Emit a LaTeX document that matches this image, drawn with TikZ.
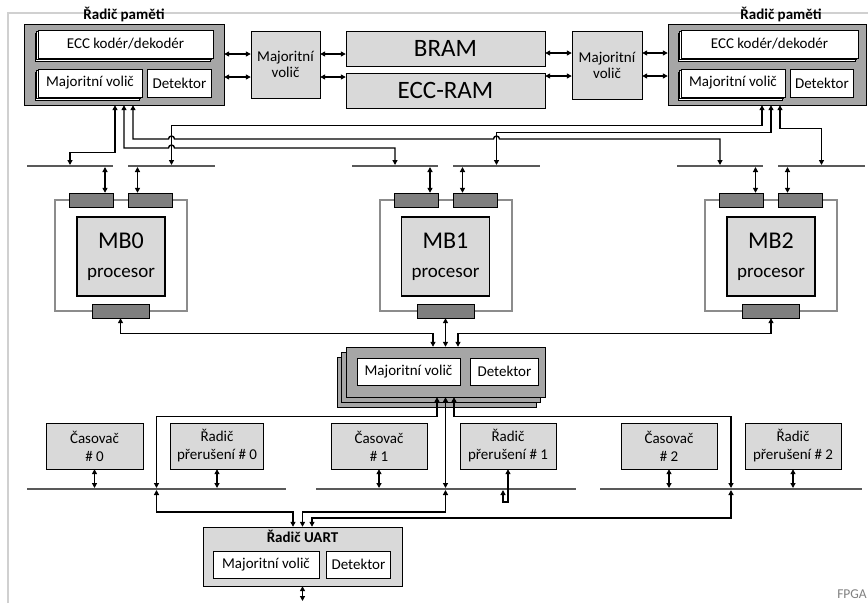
\documentclass[tikz,border=0pt]{standalone}
\usepackage{fontspec}
\setmainfont{Carlito}
\usetikzlibrary{positioning, arrows.meta, shadows}

\definecolor{ctlgray}{HTML}{A6A6A6}
\definecolor{boxgray}{HTML}{D9D9D9}
\definecolor{portgray}{HTML}{7F7F7F}
\definecolor{framegray}{HTML}{8C8C8C}
\definecolor{busgray}{HTML}{595959}
\definecolor{fpgagray}{HTML}{D0D0D0}

\tikzset{
  >={Triangle[length=5pt,width=5pt]}, % small filled heads
  line width=1.2pt,
  every node/.style={inner sep=0pt, font=\fontsize{15}{16}\selectfont, align=center},
  blk/.style={draw, fill=boxgray}, % light grey blocks
  ctl/.style={draw, fill=ctlgray}, % dark grey controllers
  wbox/.style={draw, fill=white, minimum height=28pt},
  stk/.style={copy shadow={shadow xshift=-3pt, shadow yshift=-3pt, fill=white, draw=black},
              copy shadow={shadow xshift=-1.5pt, shadow yshift=-1.5pt, fill=white, draw=black}},
  cvstk/.style={copy shadow={shadow xshift=-9pt, shadow yshift=-10pt, fill=ctlgray, draw=black},
                copy shadow={shadow xshift=-4.5pt, shadow yshift=-5pt, fill=ctlgray, draw=black}},
  port/.style={draw, fill=portgray, minimum width=44pt, minimum height=14pt},
  mbframe/.style={draw=framegray, line width=2pt, minimum width=132pt, minimum height=111pt},
  proc/.style={blk, line width=1.4pt, minimum width=88pt, minimum height=79pt,
               font=\fontsize{19}{29}\selectfont},
  tbox/.style={blk, minimum width=96pt, minimum height=46pt,
               font=\fontsize{15}{18}\selectfont}, % timers, interrupt ctrl
  bus/.style={fill=busgray, minimum height=2pt, outer sep=0pt},
  title/.style={font=\fontsize{15}{16}\selectfont\bfseries},
  big/.style={font=\fontsize{25}{25}\selectfont},
  link/.style={<->, line width=1.4pt}, % long links
  dbl/.style={<->, line width=1.6pt}, % short bus links
}

\begin{document}
\begin{tikzpicture}[x=1pt, y=-1pt]
  \useasboundingbox (0,0) rectangle (868,603);
  % FPGA border
  \draw[fpgagray, line width=1.5pt] (8,603) -- (8,13) -- (868,13);
  \node[text=gray, font=\fontsize{13.5}{14}\selectfont] (fpga) at (852,594) {FPGA};

  % memory controllers
  \node[ctl, minimum width=200pt, minimum height=81pt] (ctlL) at (124,64.5) {};
  \node[title, above=2pt of ctlL] (tL) {Řadič paměti};
  \node[wbox, stk, minimum width=175pt] (eccL) at (125.5,44) {ECC kodér/dekodér};
  \node[wbox, stk, minimum width=104pt] (volL) at (90,83) {Majoritní volič};
  \node[wbox, minimum width=64pt, right=5pt of volL] (detL) {Detektor};

  \node[ctl, minimum width=198pt, minimum height=81pt] (ctlR) at (767,64.5) {};
  \node[title, above=2pt of ctlR, xshift=14pt] (tR) {Řadič paměti};
  \node[wbox, stk, minimum width=177pt] (eccR) at (769.5,44) {ECC kodér/dekodér};
  \node[wbox, stk, minimum width=104pt] (volR) at (733,83) {Majoritní volič};
  \node[wbox, minimum width=63pt, right=5pt of volR] (detR) {Detektor};

  % memories and their voters
  \node[blk, minimum width=69pt, minimum height=67pt] (vtL) at (285.5,64.5) {Majoritní\\volič};
  \node[blk, big, minimum width=199pt, minimum height=35pt] (bram) at (445.5,48.5) {BRAM};
  \node[blk, big, minimum width=199pt, minimum height=35pt] (eccram) at (445.5,90.5) {ECC-RAM};
  \node[blk, minimum width=70pt, minimum height=68pt] (vtR) at (607,65) {Majoritní\\volič};

  \draw[link] (ctlL.east |- 0,54) -- (vtL.west |- 0,54);
  \draw[link] (ctlL.east |- 0,77) -- (vtL.west |- 0,77);
  \draw[link] (vtL.east |- 0,54) -- (bram.west |- 0,54);
  \draw[link] (vtL.east |- 0,77) -- (eccram.west |- 0,77);
  \draw[link] (bram.east |- 0,53) -- (vtR.west |- 0,53);
  \draw[link] (eccram.east |- 0,76) -- (vtR.west |- 0,76);
  \draw[link] (vtR.east |- 0,53) -- (ctlR.west |- 0,53);
  \draw[link] (vtR.east |- 0,76) -- (ctlR.west |- 0,76);

  % processor buses
  \node[bus, minimum width=86pt] (busM0a) at (70,166) {};
  \node[bus, minimum width=87pt] (busM0b) at (171.5,166) {};
  \node[bus, minimum width=86pt] (busM1a) at (395,166) {};
  \node[bus, minimum width=87pt] (busM1b) at (496.5,166) {};
  \node[bus, minimum width=86pt] (busM2a) at (720,166) {};
  \node[bus, minimum width=87pt] (busM2b) at (821.5,166) {};

  \draw[link] (ctlL.south -| 115,0) -- ++(0,47) -| (busM0a.north);
  \draw[link] (ctlL.south -| 124,0) |- (168.5,148)
    arc[start angle=180, end angle=0, radius=3pt] -| (busM1a.north);
  \draw[link] (ctlL.south -| 133,0) |- (168.5,139)
    arc[start angle=180, end angle=0, radius=3pt] -- (493.5,139)
    arc[start angle=180, end angle=0, radius=3pt] -| (busM2a.north);
  \draw[link] (ctlR.south -| 762,0) -- ++(0,20) -| (busM0b.north);
  \draw[link] (ctlR.south -| 771,0) -- ++(0,27) -| (busM1b.north);
  \draw[link] (ctlR.south -| 780,0) -- ++(0,23) -| (busM2b.north);

  % MicroBlaze cores
  \node[mbframe] (frM0) at (120.5,255.5) {};
  \node[proc] (pM0) at (121,256.5) {{\fontsize{24}{24}\selectfont MB0}\\procesor};
  \node[port] (ifM0a) at (91,200) {};
  \node[port] (ifM0b) at (150,200) {};
  \node[port, minimum width=57pt] (ifM0c) at (120.5,311) {};

  \node[mbframe] (frM1) at (446,255.5) {};
  \node[proc] (pM1) at (445.5,256.5) {{\fontsize{24}{24}\selectfont MB1}\\procesor};
  \node[port] (ifM1a) at (416,200) {};
  \node[port] (ifM1b) at (475,200) {};
  \node[port, minimum width=57pt] (ifM1c) at (445.5,311) {};

  \node[mbframe] (frM2) at (771,255.5) {};
  \node[proc] (pM2) at (771,256.5) {{\fontsize{24}{24}\selectfont MB2}\\procesor};
  \node[port] (ifM2a) at (741.5,200) {};
  \node[port] (ifM2b) at (800,200) {};
  \node[port, minimum width=57pt] (ifM2c) at (771,311) {};

  \draw[dbl] ([xshift=14pt]ifM0a.north) -- ([xshift=14pt]ifM0a.north |- busM0a.south);
  \draw[dbl] ([xshift=-12.5pt]ifM0b.north) -- ([xshift=-12.5pt]ifM0b.north |- busM0b.south);
  \draw[dbl] ([xshift=14pt]ifM1a.north) -- ([xshift=14pt]ifM1a.north |- busM1a.south);
  \draw[dbl] ([xshift=-12.5pt]ifM1b.north) -- ([xshift=-12.5pt]ifM1b.north |- busM1b.south);
  \draw[dbl] ([xshift=14pt]ifM2a.north) -- ([xshift=14pt]ifM2a.north |- busM2a.south);
  \draw[dbl] ([xshift=-12.5pt]ifM2b.north) -- ([xshift=-12.5pt]ifM2b.north |- busM2b.south);

  % central voter
  \node[ctl, cvstk, minimum width=199pt, minimum height=50pt] (cv) at (445.5,372) {};
  \node[wbox, minimum width=103pt, minimum height=27pt] (volC) at (408.5,371.5) {Majoritní volič};
  \node[wbox, minimum width=68pt, minimum height=27pt, right=10pt of volC] (detC) {Detektor};

  \draw[link] (ifM0c.south) -- ++(0,15) -| ([xshift=-12.5pt]cv.north);
  \draw[link] (ifM1c.south) -- (cv.north);
  \draw[link] (ifM2c.south) -- ++(0,15) -| ([xshift=12.5pt]cv.north);

  % peripherals
  \node[tbox, minimum width=97pt] (tim0) at (94.5,446) {Časovač\\\# 0};
  \node[tbox, minimum width=93pt] (irq0) at (217,446) {Řadič\\přerušení \# 0};
  \node[tbox] (tim1) at (379,446) {Časovač\\\# 1};
  \node[tbox] (irq1) at (508,446) {Řadič\\přerušení \# 1};
  \node[tbox] (tim2) at (669,446) {Časovač\\\# 2};
  \node[tbox] (irq2) at (793,446) {Řadič\\přerušení \# 2};

  \node[bus, minimum width=259pt] (busT0) at (156.5,489) {};
  \node[bus, minimum width=260pt] (busT1) at (445.5,489) {};
  \node[bus, minimum width=262pt] (busT2) at (731,489) {};

  \draw[link] ([xshift=-8.5pt]cv.south) -- ++(0,19) -| (busT0.north);
  \draw[link] (cv.south) -- (busT1.north);
  \draw[link] ([xshift=8.5pt]cv.south) -- ++(0,19) -| (busT2.north);

  \draw[dbl] (tim0.south) -- (tim0.south |- busT0.north);
  \draw[dbl] (irq0.south) -- (irq0.south |- busT0.north);
  \draw[dbl] (tim1.south) -- (tim1.south |- busT1.north);
  \draw[link] ([xshift=-5pt]irq1.south |- busT1.south) -- ++(0,12) -| (irq1.south);
  \draw[dbl] (tim2.south) -- (tim2.south |- busT2.north);
  \draw[dbl] (irq2.south) -- (irq2.south |- busT2.north);

  % UART controller
  \node[blk, minimum width=199pt, minimum height=59pt] (uart) at (302.5,556.5) {};
  \node[title, below=3pt of uart.north] (tU) {Řadič UART};
  \node[wbox, minimum width=106pt, minimum height=27pt] (volU) at (266,564.5) {Majoritní volič};
  \node[wbox, minimum width=64pt, minimum height=27pt, right=7pt of volU] (detU) {Detektor};
  \coordinate (uartio) at (302.5,601);

  \draw[link] (busT0.south) -- ++(0,22) -| ([xshift=-9.5pt]uart.north);
  \draw[link] (busT1.south) -- ++(0,22) -| (uart.north);
  \draw[link] (busT2.south) -- ++(0,28) -| ([xshift=9.5pt]uart.north);
  \draw[dbl] (uart.south) -- (uartio);
\end{tikzpicture}
\end{document}
